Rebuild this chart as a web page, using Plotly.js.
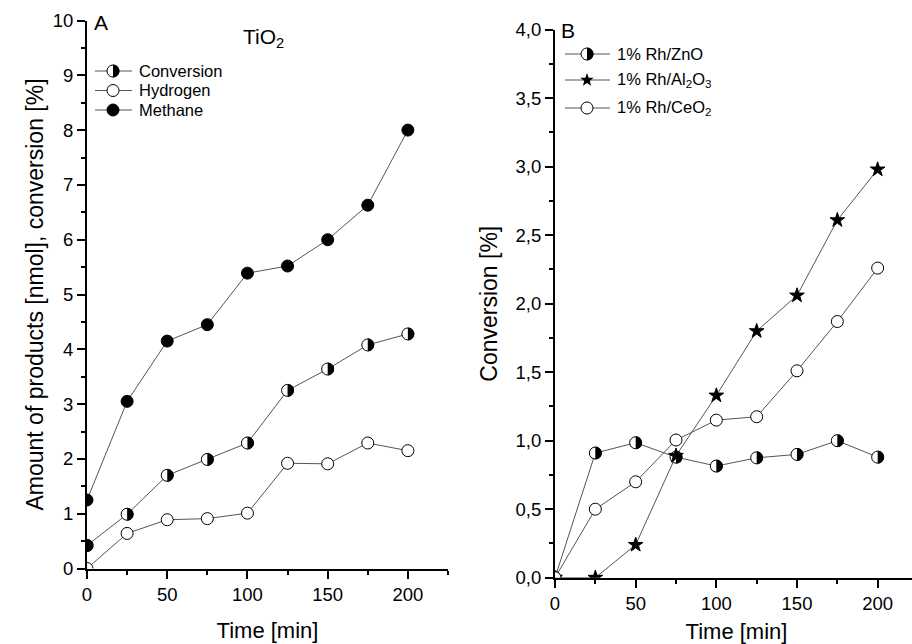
<!DOCTYPE html>
<html>
<head>
<meta charset="utf-8">
<script src="https://cdn.plot.ly/plotly-3.0.1.min.js"></script>
<style>
html,body{margin:0;padding:0;overflow:hidden;background:#fff;}
#chart{width:925px;height:644px;}
</style>
</head>
<body>
<div id="chart"></div>
<script>
// ---- data ----
const timeMin = [0, 25, 50, 75, 100, 125, 150, 175, 200];
// Panel A: TiO2
const conversionA = [0.42, 0.99, 1.70, 1.99, 2.29, 3.25, 3.64, 4.08, 4.28];
const hydrogenA   = [0.00, 0.64, 0.89, 0.91, 1.01, 1.92, 1.91, 2.29, 2.15];
const methaneA    = [1.25, 3.05, 4.15, 4.45, 5.39, 5.52, 6.00, 6.63, 8.00];
// Panel B: conversion over Rh catalysts
const rhZnO   = [0.00, 0.91, 0.985, 0.88, 0.815, 0.875, 0.90, 1.00, 0.88];
const rhAl2O3 = [0.00, 0.00, 0.24, 0.89, 1.33, 1.80, 2.06, 2.61, 2.98];
const rhCeO2  = [0.00, 0.50, 0.70, 1.005, 1.15, 1.175, 1.51, 1.87, 2.26];
// labels
const namesA = ['Conversion', 'Hydrogen', 'Methane'];
const namesB = ['1% Rh/ZnO', '1% Rh/Al<sub>2</sub>O<sub>3</sub>', '1% Rh/CeO<sub>2</sub>'];
const xTitle = 'Time [min]';
const yTitleA = 'Amount of products [nmol], conversion [%]';
const yTitleB = 'Conversion [%]';

// ---- style ----
const W = 925, H = 644;
const FONT = 'Liberation Sans, Arial, sans-serif';
const LINE = '#555555';
const px = v => v / W;
const py = v => 1 - v / H;
const MS = 12;

function halfPath(r) {
  let s = '';
  for (let a = -90; a <= 90; a += 10) {
    const t = a * Math.PI / 180;
    const x = (r * Math.cos(t)).toFixed(2), y = (r * Math.sin(t)).toFixed(2);
    s += (s ? ' L' : 'M') + x + ',' + y;
  }
  return s + ' Z';
}
function starPath(R, r) {
  let s = '';
  for (let k = 0; k < 10; k++) {
    const a = (90 + k * 36) * Math.PI / 180;
    const rad = k % 2 === 0 ? R : r;
    s += (s ? ' L' : 'M') + (rad * Math.cos(a)).toFixed(2) + ',' + (rad * Math.sin(a)).toFixed(2);
  }
  return s + ' Z';
}

function series(x, y, xa, ya, symbol, fill, size) {
  return {
    x: x, y: y, xaxis: xa, yaxis: ya, type: 'scatter', mode: 'lines+markers',
    showlegend: false, hoverinfo: 'skip',
    line: {color: LINE, width: 1},
    marker: {symbol: symbol, size: size || MS, color: fill, line: {color: '#000', width: 1}}
  };
}

const traces = [
  series(timeMin, conversionA, 'x', 'y', 'circle', '#fff'),
  series(timeMin, hydrogenA, 'x', 'y', 'circle', '#fff'),
  series(timeMin, methaneA, 'x', 'y', 'circle', '#000'),
  series(timeMin, rhZnO, 'x2', 'y2', 'circle', '#fff'),
  series(timeMin, rhAl2O3, 'x2', 'y2', 'star', '#000', 11),
  series(timeMin, rhCeO2, 'x2', 'y2', 'circle', '#fff')
];

// half-filled marker overlays (right half black)
const shapes = [];
function addHalves(xs, ys, xr, yr, laterYs) {
  xs.forEach((xv, i) => {
    const covered = laterYs.some(arr => arr[i] === ys[i]);
    if (covered) return;
    shapes.push({type: 'path', xref: xr, yref: yr, xsizemode: 'pixel', ysizemode: 'pixel',
      xanchor: xv, yanchor: ys[i], path: halfPath(6.4), fillcolor: '#000', line: {width: 0}, layer: 'above'});
  });
}
addHalves(timeMin, conversionA, 'x', 'y', []);
addHalves(timeMin, rhZnO, 'x2', 'y2', [rhCeO2]);

// ---- manual legends ----
const annotations = [];
function legendRow(x0, x1, xm, y, kind, text, tx) {
  shapes.push({type: 'line', xref: 'paper', yref: 'paper', x0: px(x0), x1: px(x1), y0: py(y), y1: py(y),
    line: {color: LINE, width: 1}});
  const base = {xref: 'paper', yref: 'paper', xsizemode: 'pixel', ysizemode: 'pixel', xanchor: px(xm), yanchor: py(y)};
  if (kind === 'star') {
    shapes.push(Object.assign({type: 'path', path: starPath(7, 2.9), fillcolor: '#000', line: {width: 0}}, base));
  } else {
    shapes.push(Object.assign({type: 'circle', x0: -6, x1: 6, y0: -6, y1: 6,
      fillcolor: kind === 'full' ? '#000' : '#fff', line: {color: '#000', width: 1}}, base));
    if (kind === 'half') {
      shapes.push(Object.assign({type: 'path', path: halfPath(6.4), fillcolor: '#000', line: {width: 0}}, base));
    }
  }
  annotations.push({xref: 'paper', yref: 'paper', x: px(tx), y: py(y), xanchor: 'left', yanchor: 'middle',
    text: text, showarrow: false, font: {family: FONT, size: 16.5, color: '#000'}});
}
const kindsA = ['half', 'open', 'full'];
const rowsA = [71, 90.5, 110];
namesA.forEach((n, i) => legendRow(95, 132, 113, rowsA[i], kindsA[i], n, 137));
const kindsB = ['half', 'star', 'open'];
const rowsB = [54, 80, 108];
namesB.forEach((n, i) => legendRow(565, 610, 587, rowsB[i], kindsB[i], n, 615));

annotations.push({xref: 'paper', yref: 'paper', x: px(92), y: py(23), xanchor: 'left', yanchor: 'middle',
  text: 'A', showarrow: false, font: {family: FONT, size: 21, color: '#000'}});
annotations.push({xref: 'paper', yref: 'paper', x: px(559), y: py(30), xanchor: 'left', yanchor: 'middle',
  text: 'B', showarrow: false, font: {family: FONT, size: 21, color: '#000'}});
annotations.push({xref: 'paper', yref: 'paper', x: px(241), y: py(38), xanchor: 'left', yanchor: 'middle',
  text: 'TiO<sub>2</sub>', showarrow: false, font: {family: FONT, size: 21, color: '#000'}});

function axisBase(extra) {
  return Object.assign({
    showgrid: false, zeroline: false, showline: true, linecolor: '#000', linewidth: 2,
    ticks: 'outside', ticklen: 8, tickwidth: 2, tickcolor: '#000',
    tickfont: {family: FONT, size: 18.5, color: '#000'}, automargin: false, fixedrange: true
  }, extra);
}
const xTitleFont = {family: FONT, size: 22, color: '#000'};
const yTitleFont = {family: FONT, size: 23, color: '#000'};

const layout = {
  width: W, height: H, autosize: false,
  margin: {l: 0, r: 0, t: 0, b: 0},
  paper_bgcolor: '#fff', plot_bgcolor: '#fff',
  separators: ',.',
  showlegend: false,
  xaxis: axisBase({domain: [px(87), px(448)], range: [0, 225], anchor: 'y', tick0: 0, dtick: 50,
    minor: {dtick: 25, ticks: 'outside', ticklen: 4, tickwidth: 2, tickcolor: '#000'},
    title: {text: xTitle, font: xTitleFont, standoff: 19}}),
  yaxis: axisBase({domain: [py(568.5), py(20.5)], range: [0, 10], anchor: 'x', tick0: 0, dtick: 1,
    minor: {dtick: 0.5, ticks: 'outside', ticklen: 4, tickwidth: 2, tickcolor: '#000'},
    title: {text: yTitleA, font: yTitleFont, standoff: 3}}),
  yaxis3: axisBase({overlaying: 'y', side: 'right', anchor: 'x', range: [0, 10], tick0: 0, dtick: 1,
    ticks: 'inside', showticklabels: false,
    minor: {dtick: 0.5, ticks: 'inside', ticklen: 4, tickwidth: 2, tickcolor: '#000'}}),
  xaxis2: axisBase({domain: [px(555), px(918)], range: [0, 225], anchor: 'y2', tick0: 0, dtick: 50,
    minor: {dtick: 25, ticks: 'outside', ticklen: 4, tickwidth: 2, tickcolor: '#000'},
    title: {text: xTitle, font: xTitleFont, standoff: 13}}),
  yaxis2: axisBase({domain: [py(577.7), py(29.7)], range: [0, 4], anchor: 'x2', tick0: 0, dtick: 0.5,
    tickformat: '.1f',
    minor: {dtick: 0.25, ticks: 'outside', ticklen: 4, tickwidth: 2, tickcolor: '#000'},
    title: {text: yTitleB, font: yTitleFont, standoff: 12}}),
  yaxis4: axisBase({overlaying: 'y2', side: 'right', anchor: 'x2', range: [0, 4], tick0: 0, dtick: 0.5,
    ticks: 'inside', ticklen: 10, showticklabels: false,
    minor: {dtick: 0.25, ticks: 'inside', ticklen: 4, tickwidth: 2, tickcolor: '#000'}}),
  shapes: shapes,
  annotations: annotations
};

Plotly.newPlot('chart', traces, layout, {staticPlot: true, displayModeBar: false});
</script>
</body>
</html>
